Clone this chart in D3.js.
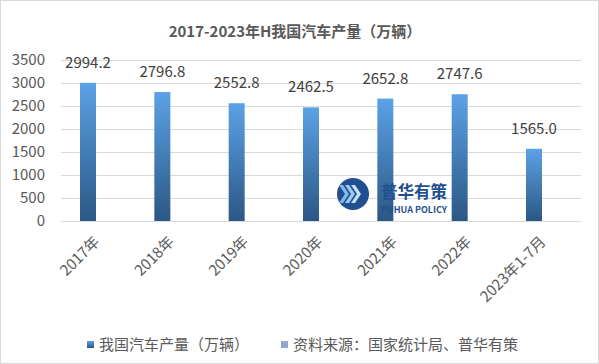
<!DOCTYPE html>
<html><head><meta charset="utf-8">
<script src="https://cdn.jsdelivr.net/npm/d3@7"></script>
<style>body{margin:0;background:#fff}svg{display:block}text{font-family:"Noto Sans CJK SC","Microsoft YaHei",sans-serif}</style>
</head><body>
<svg id="c" width="599" height="364"></svg>
<script>
const categories = ["2017年","2018年","2019年","2020年","2021年","2022年","2023年1-7月"];
const values = [2994.2, 2796.8, 2552.8, 2462.5, 2652.8, 2747.6, 1565.0];
const yTicks = [0,500,1000,1500,2000,2500,3000,3500];
const title = "2017-2023年H我国汽车产量（万辆）";
const legendLabels = ["我国汽车产量（万辆）","资料来源：国家统计局、普华有策"];

const svg = d3.select("#c");
svg.append("rect").attr("x",0.5).attr("y",0.5).attr("width",598).attr("height",363)
  .attr("fill","#fff").attr("stroke","#d9d9d9");

const defs = svg.append("defs");
const g = defs.append("linearGradient").attr("id","bg").attr("x1",0).attr("y1",0).attr("x2",0).attr("y2",1);
g.append("stop").attr("offset","0%").attr("stop-color","#5ba2e6");
g.append("stop").attr("offset","100%").attr("stop-color","#2b5784");

const y = d3.scaleLinear().domain([0,3500]).range([221,59.5]);
const x = d3.scalePoint().domain(categories).range([88,534]);
const bw = 16;

svg.append("g").selectAll("line").data(yTicks).join("line")
  .attr("x1",61).attr("x2",581).attr("y1",d=>Math.round(y(d))+0.5).attr("y2",d=>Math.round(y(d))+0.5)
  .attr("stroke","#d9d9d9").attr("stroke-width",1);

svg.append("g").selectAll("text").data(yTicks).join("text")
  .attr("x",45).attr("y",d=>y(d)).attr("dy","0.36em").attr("text-anchor","end")
  .attr("font-size",15).attr("fill","#595959").text(d=>d);

svg.append("g").selectAll("rect").data(values).join("rect")
  .attr("x",(d,i)=>x(categories[i])-bw/2).attr("width",bw)
  .attr("y",d=>y(d)).attr("height",d=>y(0)-y(d)).attr("fill","url(#bg)");

svg.append("g").selectAll("text").data(values).join("text")
  .attr("x",(d,i)=>x(categories[i])).attr("y",d=>y(d)-15).attr("text-anchor","middle")
  .attr("font-size",15).attr("fill","#404040").text(d=>d.toFixed(1));

svg.append("g").selectAll("text").data(categories).join("text")
  .attr("transform",d=>`translate(${x(d)+9},${239}) rotate(-45)`)
  .attr("text-anchor","end").attr("dy","0.35em")
  .attr("font-size",15).attr("fill","#595959").text(d=>d);

svg.append("text").attr("x",295).attr("y",37).attr("text-anchor","middle")
  .attr("font-size",15).attr("font-weight","bold").attr("fill","#595959").text(title);

const leg = [{x:87,fill:"url(#bg)"},{x:281,fill:"#8fa6d6"}];
leg.forEach((l,i)=>{
  svg.append("rect").attr("x",l.x).attr("y",341).attr("width",7).attr("height",7).attr("fill",l.fill);
  svg.append("text").attr("x",l.x+12).attr("y",345).attr("dy","0.36em")
    .attr("font-size",15).attr("fill","#595959").text(legendLabels[i]);
});

const lg = svg.append("g");
lg.append("circle").attr("cx",353).attr("cy",194).attr("r",16).attr("fill","#1f4f8f");
[-6,0,6].forEach((o,i)=>{
  lg.append("path").attr("d",`M${345+o},${185} L${351+o},${194} L${345+o},${203} L${349+o},${203} L${355+o},${194} L${349+o},${185} Z`)
    .attr("fill",["#7fb8ee","#9ccaf3","#c4e0f8"][i]);
});
lg.append("text").attr("x",381).attr("y",198).attr("font-size",16.5).attr("font-weight","bold")
  .attr("fill","#1f4f8f").attr("textLength",66).text("普华有策");
lg.append("text").attr("x",381).attr("y",213).attr("font-size",9).attr("font-weight","bold")
  .attr("fill","#1f4f8f").attr("textLength",66).text("PUHUA POLICY");
</script>
</body></html>
